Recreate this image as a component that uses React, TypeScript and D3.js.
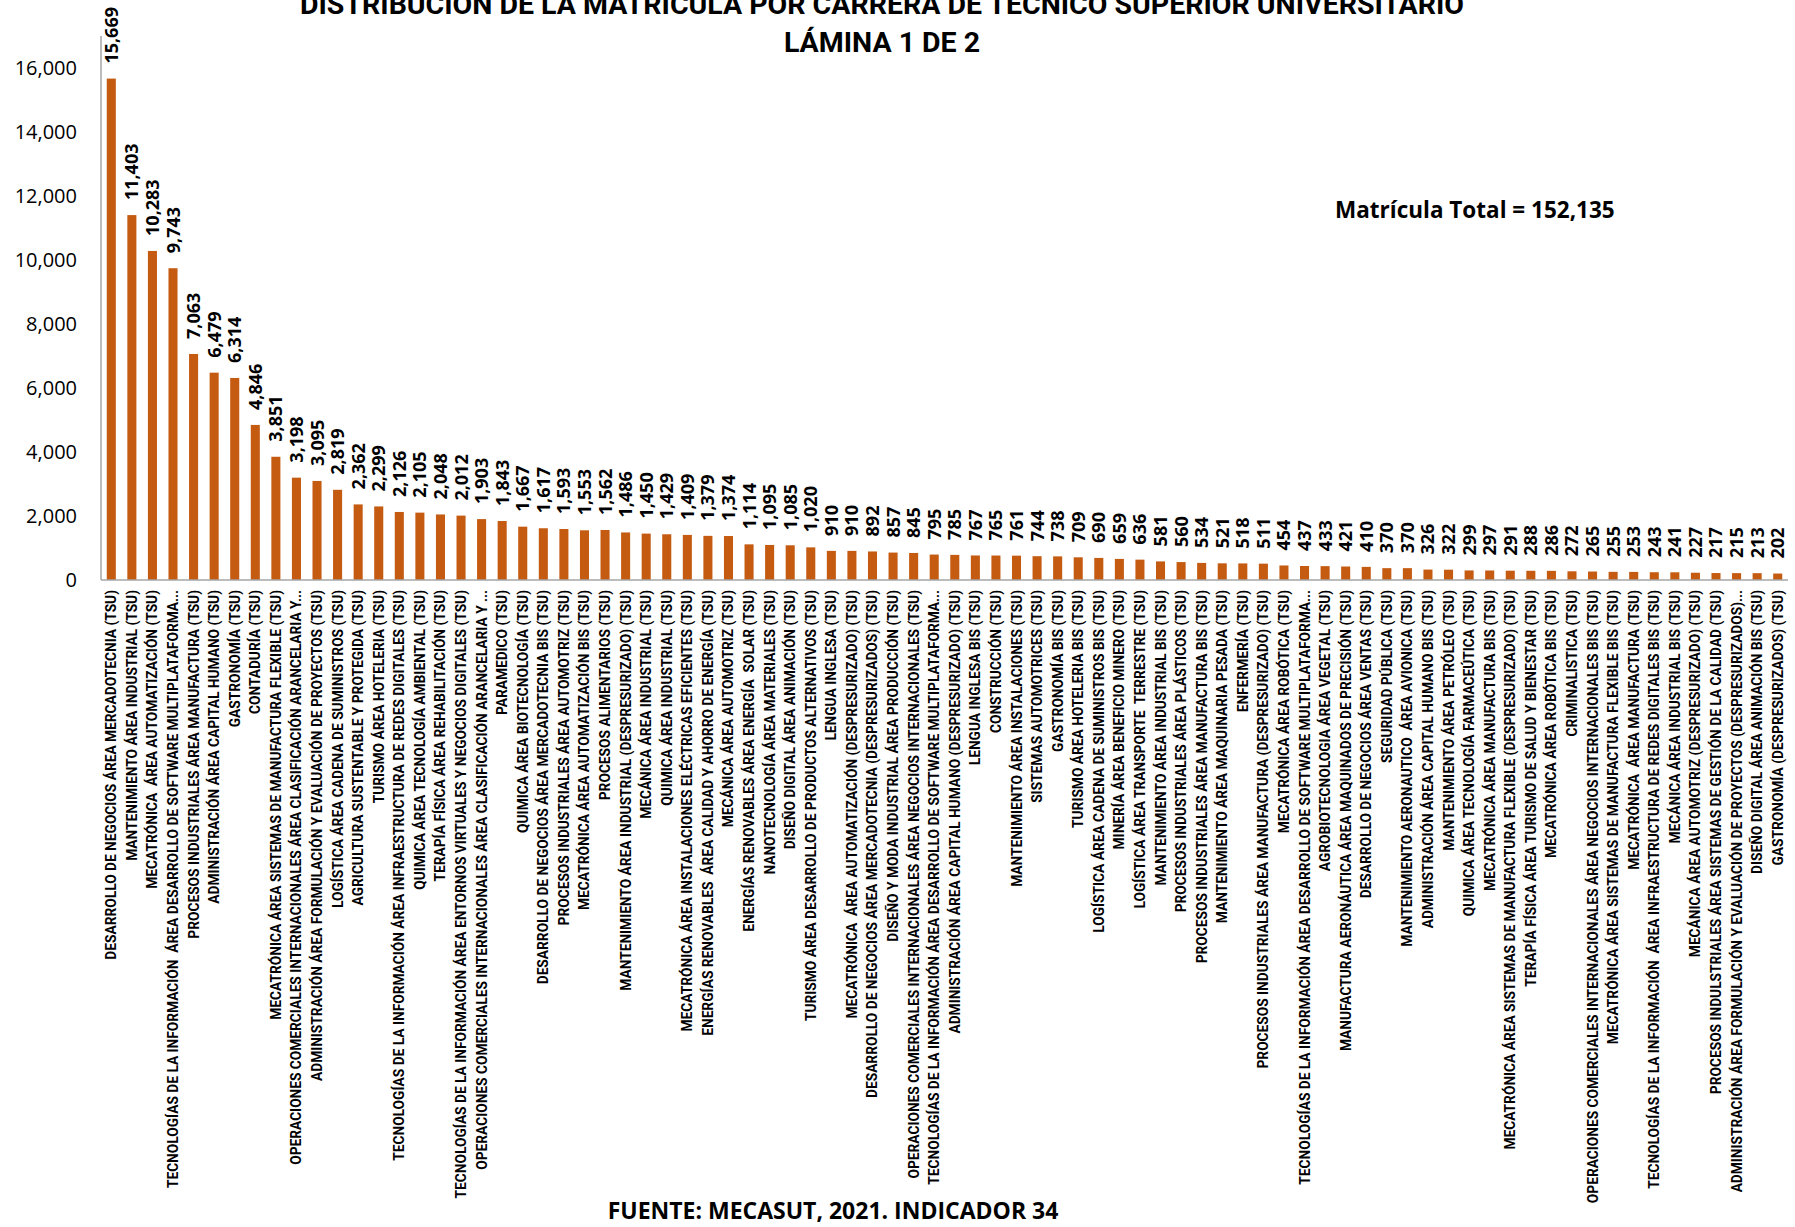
import { useEffect, useRef } from "react"
import * as d3 from "d3";

const categories: string[] = [
    "DESARROLLO DE NEGOCIOS ÁREA MERCADOTECNIA (TSU)",
    "MANTENIMIENTO ÁREA INDUSTRIAL (TSU)",
    "MECATRÓNICA  ÁREA AUTOMATIZACIÓN (TSU)",
    "TECNOLOGÍAS DE LA INFORMACIÓN  ÁREA DESARROLLO DE SOFTWARE MULTIPLATAFORMA...",
    "PROCESOS INDUSTRIALES ÁREA MANUFACTURA (TSU)",
    "ADMINISTRACIÓN ÁREA CAPITAL HUMANO (TSU)",
    "GASTRONOMÍA (TSU)",
    "CONTADURÍA (TSU)",
    "MECATRÓNICA ÁREA SISTEMAS DE MANUFACTURA FLEXIBLE (TSU)",
    "OPERACIONES COMERCIALES INTERNACIONALES ÁREA CLASIFICACIÓN ARANCELARIA Y...",
    "ADMINISTRACIÓN ÁREA FORMULACIÓN Y EVALUACIÓN DE PROYECTOS (TSU)",
    "LOGÍSTICA ÁREA CADENA DE SUMINISTROS (TSU)",
    "AGRICULTURA SUSTENTABLE Y PROTEGIDA (TSU)",
    "TURISMO ÁREA HOTELERIA (TSU)",
    "TECNOLOGÍAS DE LA INFORMACIÓN ÁREA INFRAESTRUCTURA DE REDES DIGITALES (TSU)",
    "QUIMICA ÁREA TECNOLOGÍA AMBIENTAL (TSU)",
    "TERAPÍA FÍSICA ÁREA REHABILITACIÓN (TSU)",
    "TECNOLOGÍAS DE LA INFORMACIÓN ÁREA ENTORNOS VIRTUALES Y NEGOCIOS DIGITALES (TSU)",
    "OPERACIONES COMERCIALES INTERNACIONALES ÁREA CLASIFICACIÓN ARANCELARIA Y ...",
    "PARAMEDICO (TSU)",
    "QUIMICA ÁREA BIOTECNOLOGÍA (TSU)",
    "DESARROLLO DE NEGOCIOS ÁREA MERCADOTECNIA BIS (TSU)",
    "PROCESOS INDUSTRIALES ÁREA AUTOMOTRIZ (TSU)",
    "MECATRÓNICA ÁREA AUTOMATIZACIÓN BIS (TSU)",
    "PROCESOS ALIMENTARIOS (TSU)",
    "MANTENIMIENTO ÁREA INDUSTRIAL (DESPRESURIZADO) (TSU)",
    "MECÁNICA ÁREA INDUSTRIAL (TSU)",
    "QUIMICA ÁREA INDUSTRIAL (TSU)",
    "MECATRÓNICA ÁREA INSTALACIONES ELÉCTRICAS EFICIENTES (TSU)",
    "ENERGÍAS RENOVABLES  ÁREA CALIDAD Y AHORRO DE ENERGÍA (TSU)",
    "MECÁNICA ÁREA AUTOMOTRIZ (TSU)",
    "ENERGÍAS RENOVABLES ÁREA ENERGÍA  SOLAR (TSU)",
    "NANOTECNOLOGÍA ÁREA MATERIALES (TSU)",
    "DISEÑO DIGITAL ÁREA ANIMACIÓN (TSU)",
    "TURISMO ÁREA DESARROLLO DE PRODUCTOS ALTERNATIVOS (TSU)",
    "LENGUA INGLESA (TSU)",
    "MECATRÓNICA  ÁREA AUTOMATIZACIÓN (DESPRESURIZADO) (TSU)",
    "DESARROLLO DE NEGOCIOS ÁREA MERCADOTECNIA (DESPRESURIZADOS) (TSU)",
    "DISEÑO Y MODA INDUSTRIAL ÁREA PRODUCCIÓN (TSU)",
    "OPERACIONES COMERCIALES INTERNACIONALES ÁREA NEGOCIOS INTERNACIONALES (TSU)",
    "TECNOLOGÍAS DE LA INFORMACIÓN ÁREA DESARROLLO DE SOFTWARE MULTIPLATAFORMA...",
    "ADMINISTRACIÓN ÁREA CAPITAL HUMANO (DESPRESURIZADO) (TSU)",
    "LENGUA INGLESA BIS (TSU)",
    "CONSTRUCCIÓN (TSU)",
    "MANTENIMIENTO ÁREA INSTALACIONES (TSU)",
    "SISTEMAS AUTOMOTRICES (TSU)",
    "GASTRONOMÍA BIS (TSU)",
    "TURISMO ÁREA HOTELERIA BIS (TSU)",
    "LOGÍSTICA ÁREA CADENA DE SUMINISTROS BIS (TSU)",
    "MINERÍA ÁREA BENEFICIO MINERO (TSU)",
    "LOGÍSTICA ÁREA TRANSPORTE  TERRESTRE (TSU)",
    "MANTENIMIENTO ÁREA INDUSTRIAL BIS (TSU)",
    "PROCESOS INDUSTRIALES ÁREA PLÁSTICOS (TSU)",
    "PROCESOS INDUSTRIALES ÁREA MANUFACTURA BIS (TSU)",
    "MANTENIMIENTO ÁREA MAQUINARIA PESADA (TSU)",
    "ENFERMERÍA (TSU)",
    "PROCESOS INDUSTRIALES ÁREA MANUFACTURA (DESPRESURIZADO) (TSU)",
    "MECATRÓNICA ÁREA ROBÓTICA (TSU)",
    "TECNOLOGÍAS DE LA INFORMACIÓN ÁREA DESARROLLO DE SOFTWARE MULTIPLATAFORMA...",
    "AGROBIOTECNOLOGIA ÁREA VEGETAL (TSU)",
    "MANUFACTURA AERONÁUTICA ÁREA MAQUINADOS DE PRECISIÓN (TSU)",
    "DESARROLLO DE NEGOCIOS ÁREA VENTAS (TSU)",
    "SEGURIDAD PÚBLICA (TSU)",
    "MANTENIMIENTO AERONAUTICO  ÁREA AVIONICA (TSU)",
    "ADMINISTRACIÓN ÁREA CAPITAL HUMANO BIS (TSU)",
    "MANTENIMIENTO ÁREA PETRÓLEO (TSU)",
    "QUIMICA ÁREA TECNOLOGÍA FARMACEÚTICA (TSU)",
    "MECATRÓNICA ÁREA MANUFACTURA BIS (TSU)",
    "MECATRÓNICA ÁREA SISTEMAS DE MANUFACTURA FLEXIBLE (DESPRESURIZADO) (TSU)",
    "TERAPÍA FÍSICA ÁREA TURISMO DE SALUD Y BIENESTAR (TSU)",
    "MECATRÓNICA ÁREA ROBÓTICA BIS (TSU)",
    "CRIMINALISTICA (TSU)",
    "OPERACIONES COMERCIALES INTERNACIONALES ÁREA NEGOCIOS INTERNACIONALES BIS (TSU)",
    "MECATRÓNICA ÁREA SISTEMAS DE MANUFACTURA FLEXIBLE BIS (TSU)",
    "MECATRÓNICA  ÁREA MANUFACTURA (TSU)",
    "TECNOLOGÍAS DE LA INFORMACIÓN  ÁREA INFRAESTRUCTURA DE REDES DIGITALES BIS (TSU)",
    "MECÁNICA ÁREA INDUSTRIAL BIS (TSU)",
    "MECÁNICA ÁREA AUTOMOTRIZ (DESPRESURIZADO) (TSU)",
    "PROCESOS INDULSTRIALES ÁREA SISTEMAS DE GESTIÓN DE LA CALIDAD (TSU)",
    "ADMINISTRACIÓN ÁREA FORMULACIÓN Y EVALUACIÓN DE PROYECTOS (DESPRESURIZADOS)...",
    "DISEÑO DIGITAL ÁREA ANIMACIÓN BIS (TSU)",
    "GASTRONOMÍA (DESPRESURIZADOS) (TSU)",
];

const matricula: number[] = [
    15669, 11403, 10283, 9743, 7063, 6479, 6314, 4846, 3851, 3198,
    3095, 2819, 2362, 2299, 2126, 2105, 2048, 2012, 1903, 1843,
    1667, 1617, 1593, 1553, 1562, 1486, 1450, 1429, 1409, 1379,
    1374, 1114, 1095, 1085, 1020, 910, 910, 892, 857, 845,
    795, 785, 767, 765, 761, 744, 738, 709, 690, 659,
    636, 581, 560, 534, 521, 518, 511, 454, 437, 433,
    421, 410, 370, 370, 326, 322, 299, 297, 291, 288,
    286, 272, 265, 255, 253, 243, 241, 227, 217, 215,
    213, 202,
];

const yTicks: number[] = [0, 2000, 4000, 6000, 8000, 10000, 12000, 14000, 16000];

const titleLines: string[] = [
    "DISTRIBUCIÓN DE LA MATRÍCULA POR CARRERA DE TÉCNICO SUPERIOR UNIVERSITARIO",
    "LÁMINA 1 DE 2",
];
const totalLabel = "Matrícula Total = 152,135";
const sourceLabel = "FUENTE: MECASUT, 2021. INDICADOR 34";

const BarChart = () => {
    const ref = useRef<SVGSVGElement>(null);

    useEffect(() => {
        const svg = d3.select(ref.current);
        svg.selectAll("*").remove();

        var width = 1795, height = 1227;
        var left = 101, right = 1788, top = 36, bottom = 580;

        var x = d3.scaleBand()
            .domain(categories.map((_, i) => String(i)))
            .range([left, right])
            .paddingInner(0.56)
            .paddingOuter(0.28);
        var y = d3.scaleLinear()
            .domain([0, 17000])
            .range([bottom, top]);

        svg.attr("width", width).attr("height", height);

        // title
        svg.append("g")
            .selectAll("text")
            .data(titleLines)
            .enter().append("text")
            .attr("x", 882)
            .attr("y", (_, i) => 14 + i * 38)
            .attr("text-anchor", "middle")
            .attr("font-family", "Roboto, 'Open Sans', sans-serif")
            .attr("font-weight", 700)
            .attr("font-size", 28.5)
            .text(d => d);

        // y axis
        const yAxis = svg.append("g")
            .attr("transform", `translate(${left},0)`)
            .call(d3.axisLeft(y).tickValues(yTicks).tickSize(0).tickPadding(24).tickFormat(d3.format(",")));
        yAxis.select(".domain").attr("stroke", "#a6a6a6").attr("stroke-width", 1.5)
            .attr("d", `M0,${top}V${bottom}`);
        yAxis.selectAll("text")
            .attr("font-family", "'Open Sans', sans-serif")
            .attr("font-size", 20)
            .attr("fill", "#000");

        // bars
        svg.append("g")
            .selectAll("rect")
            .data(matricula)
            .enter().append("rect")
            .attr("x", (_, i) => x(String(i))!)
            .attr("y", d => y(d))
            .attr("width", x.bandwidth())
            .attr("height", d => y(0) - y(d))
            .attr("fill", "#C55A11");

        // x axis line
        svg.append("line")
            .attr("x1", left).attr("x2", right)
            .attr("y1", y(0)).attr("y2", y(0))
            .attr("stroke", "#a6a6a6")
            .attr("stroke-width", 1.5);

        // value labels
        svg.append("g")
            .selectAll("text")
            .data(matricula)
            .enter().append("text")
            .attr("transform", (d, i) => `translate(${x(String(i))! + x.bandwidth() / 2 + 6.5},${y(d) - 15}) rotate(-90)`)
            .attr("font-family", "'Open Sans', sans-serif")
            .attr("font-weight", 700)
            .attr("font-size", 18)
            .text(d => d3.format(",")(d));

        // category labels
        const labels = svg.append("g")
            .selectAll("text")
            .data(categories)
            .enter().append("text")
            .attr("text-anchor", "end")
            .attr("font-family", "Roboto, sans-serif")
            .attr("font-weight", 700)
            .attr("font-size", 14)
            .attr("xml:space", "preserve")
            .text(d => d);
        // squeeze them like the narrow Excel font
        const first = labels.node() as SVGTextElement;
        const k = first ? 370 / first.getComputedTextLength() : 1;
        labels.attr("transform", (_, i) => `translate(${x(String(i))! + x.bandwidth() / 2 + 5},${bottom + 10}) rotate(-90) scale(${k},1)`);

        svg.append("text")
            .attr("x", 1335)
            .attr("y", 218)
            .attr("font-family", "'Open Sans', sans-serif")
            .attr("font-weight", 700)
            .attr("font-size", 22.5)
            .text(totalLabel);

        svg.append("text")
            .attr("x", 833)
            .attr("y", 1219)
            .attr("text-anchor", "middle")
            .attr("font-family", "'Open Sans', sans-serif")
            .attr("font-weight", 700)
            .attr("font-size", 23)
            .text(sourceLabel);
    }, []);

    return <svg ref={ref} style={{ position: "absolute", left: 0, top: 0, background: "#fff" }}></svg>
}

export default function App() {
    return <BarChart />
}
